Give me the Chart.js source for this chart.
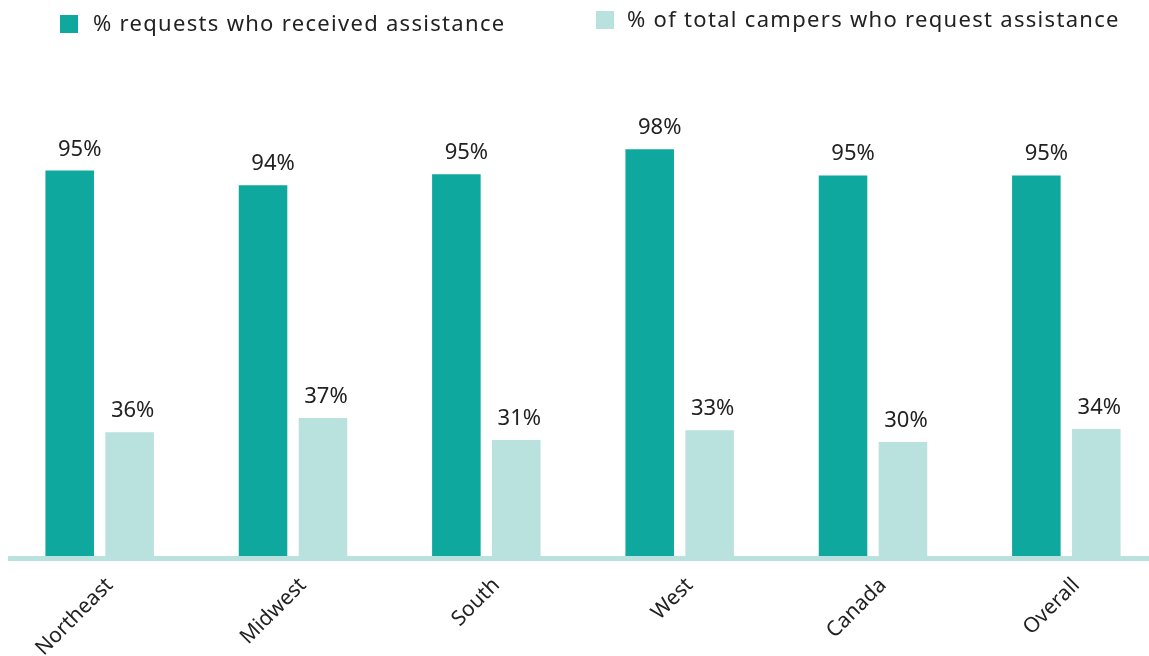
<!DOCTYPE html>
<html>
<head>
<meta charset="utf-8">
<script src="https://cdn.jsdelivr.net/npm/chart.js@4.4.0/dist/chart.umd.min.js"></script>
<style>
  html, body { margin: 0; padding: 0; background: #fff; overflow: hidden; }
  #wrap { position: relative; width: 1149px; height: 656px; overflow: hidden; }
  #chart { position: absolute; left: 0; top: 0; }
  .legend { position: absolute; font-family: "Noto Sans", sans-serif; font-size: 22px; letter-spacing: 1.3px; color: #222; white-space: nowrap; }
  .legend i { position: absolute; width: 18px; height: 18px; }
</style>
</head>
<body>
<div id="wrap">
  <canvas id="chart" width="1166" height="656"></canvas>
  <div class="legend" style="left:93px; top:7px;"><i style="left:-33px; top:8px; background:#0fa89e;"></i><span id="leg0"></span></div>
  <div class="legend" style="left:627px; top:3px;"><i style="left:-31px; top:8px; background:#b9e2de;"></i><span id="leg1"></span></div>
</div>
<script>
// data
const regions = ['Northeast', 'Midwest', 'South', 'West', 'Canada', 'Overall'];
const seriesNames = ['% requests who received assistance', '% of total campers who request assistance'];

// bar lengths as drawn
const received = [95.3, 91.7, 94.4, 100.5, 94.1, 94.1];
const requested = [31.1, 34.6, 29.2, 31.6, 28.7, 31.9];

// value labels as printed above the bars
const receivedLabels = ['95%', '94%', '95%', '98%', '95%', '95%'];
const requestedLabels = ['36%', '37%', '31%', '33%', '30%', '34%'];

const DARK = '#0fa89e';
const LIGHT = '#b9e2de';
const FONT = '"Noto Sans", sans-serif';

document.getElementById('leg0').textContent = seriesNames[0];
document.getElementById('leg1').textContent = seriesNames[1];

// labels above each bar
const valueLabels = {
    id: 'valueLabels',
    afterDatasetsDraw(chart) {
        const ctx = chart.ctx;
        const texts = [receivedLabels, requestedLabels];
        const shift = [10, 3];
        ctx.save();
        ctx.font = '22px ' + FONT;
        ctx.fillStyle = '#222';
        ctx.textAlign = 'center';
        ctx.textBaseline = 'alphabetic';
        chart.data.datasets.forEach((ds, i) => {
            chart.getDatasetMeta(i).data.forEach((bar, j) => {
                ctx.fillText(texts[i][j], bar.x + shift[i], bar.y - 15);
            });
        });
        ctx.restore();
    }
};

// thick light baseline drawn over the bar feet
const baseLine = {
    id: 'baseLine',
    afterDatasetsDraw(chart) {
        const ctx = chart.ctx;
        const y = chart.chartArea.bottom;
        ctx.save();
        ctx.fillStyle = LIGHT;
        ctx.fillRect(8, y - 3, 1141, 5);
        ctx.restore();
    }
};

new Chart(document.getElementById('chart'), {
    type: 'bar',
    data: {
        labels: regions,
        datasets: [
            { label: seriesNames[0], data: received, backgroundColor: DARK },
            { label: seriesNames[1], data: requested, backgroundColor: LIGHT }
        ]
    },
    options: {
        responsive: false,
        animation: false,
        events: [],
        categoryPercentage: 0.62,
        barPercentage: 0.81,
        layout: { padding: { left: 3, right: 3, top: 131, bottom: 0 } },
        plugins: { legend: { display: false }, tooltip: { enabled: false } },
        scales: {
            x: {
                grid: { display: false },
                border: { display: false },
                afterFit: s => { s.height = 97; },
                ticks: {
                    maxRotation: 45,
                    minRotation: 45,
                    padding: 6,
                    labelOffset: 10,
                    color: '#222',
                    font: { family: FONT, size: 21 }
                }
            },
            y: {
                display: false,
                min: 0,
                max: 105
            }
        }
    },
    plugins: [valueLabels, baseLine]
});
</script>
</body>
</html>
